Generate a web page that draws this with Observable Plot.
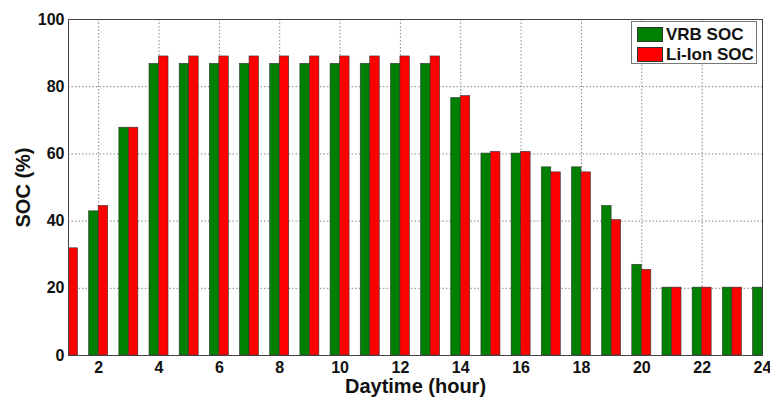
<!DOCTYPE html>
<html>
<head>
<meta charset="utf-8">
<script src="https://cdn.jsdelivr.net/npm/d3@7"></script>
<script src="https://cdn.jsdelivr.net/npm/@observablehq/plot@0.6"></script>
<style>
  html, body { margin: 0; padding: 0; background: #fff; }
  #wrap { position: relative; width: 770px; height: 397px; }
  #wrap svg g[aria-label="x-axis label"] text,
  #wrap svg g[aria-label="y-axis label"] text { font-size: 20px; }
  #legend {
    position: absolute; left: 631px; top: 21px; width: 126px; height: 43px;
    border: 1px solid #777; background: #fff; box-sizing: border-box;
    font-family: "Liberation Sans", Arial, sans-serif; font-weight: bold; font-size: 17px; color: #111;
  }
  .item { position: absolute; left: 5px; height: 15px; display: flex; align-items: center; white-space: nowrap; }
  .sw { width: 26px; height: 15px; margin-right: 3px; box-sizing: border-box; border: 0.6px solid #333; }
</style>
</head>
<body>
<div id="wrap"></div>
<script>
const hours = [1,2,3,4,5,6,7,8,9,10,11,12,13,14,15,16,17,18,19,20,21,22,23,24];
const vrbSOC   = [null,42.9,67.8,86.8,86.8,86.8,86.8,86.8,86.8,86.8,86.8,86.8,86.8,76.6,60.1,60.1,56.0,56.0,44.5,27.0,20.2,20.2,20.2,20.2];
const liionSOC = [31.9,44.5,67.8,89.0,89.0,89.0,89.0,89.0,89.0,89.0,89.0,89.0,89.0,77.2,60.6,60.6,54.5,54.5,40.3,25.5,20.2,20.2,20.2,null];
const seriesNames = ["VRB SOC", "Li-Ion SOC"];
const seriesColors = ["#008000", "#ff0000"];
const xTicks = [2,4,6,8,10,12,14,16,18,20,22,24];
const yTicks = [0,20,40,60,80,100];
const xGrid = [2,4,6,8,10,12,14,16,18,20,22];
const yGrid = [20,40,60,80];

const barW = 0.315;
const rows = [];
hours.forEach((h, i) => {
  rows.push({hour: h, series: seriesNames[0], idx: 0, value: vrbSOC[i]});
  rows.push({hour: h, series: seriesNames[1], idx: 1, value: liionSOC[i]});
});
const data = rows.filter(d => d.value != null);

const chart = Plot.plot({
  width: 770,
  height: 397,
  marginLeft: 68,
  marginRight: 8,
  marginTop: 19,
  marginBottom: 42,
  style: {fontFamily: "'Liberation Sans', Arial, sans-serif", fontSize: "16px", fontWeight: "bold", color: "#111", background: "#fff"},
  x: {domain: [1, 24], ticks: xTicks, tickSize: 0, tickPadding: 6, label: "Daytime (hour)", labelAnchor: "center", labelOffset: 37, labelArrow: "none"},
  y: {domain: [0, 100], ticks: yTicks, tickSize: 0, tickPadding: 4, label: "SOC (%)", labelAnchor: "center", labelOffset: 53, labelArrow: "none"},
  color: {domain: seriesNames, range: seriesColors},
  marks: [
    Plot.gridX(xGrid, {stroke: "#888", strokeOpacity: 1, strokeDasharray: "1.5,2"}),
    Plot.gridY(yGrid, {stroke: "#888", strokeOpacity: 1, strokeDasharray: "1.5,2"}),
    Plot.rect(data, {
      x1: d => d.idx === 0 ? d.hour - barW : d.hour,
      x2: d => d.idx === 0 ? d.hour : d.hour + barW,
      y1: () => 0,
      y2: "value",
      fill: "series",
      stroke: "#333",
      strokeWidth: 0.6,
      clip: true
    }),
    Plot.frame({stroke: "#444", strokeWidth: 1})
  ]
});

const wrap = document.getElementById("wrap");
wrap.appendChild(chart);

const legend = document.createElement("div");
legend.id = "legend";
seriesNames.forEach((name, i) => {
  const item = document.createElement("div");
  item.className = "item";
  item.style.top = (5 + i * 20) + "px";
  const sw = document.createElement("div");
  sw.className = "sw";
  sw.style.background = seriesColors[i];
  const t = document.createElement("span");
  t.textContent = name;
  item.appendChild(sw);
  item.appendChild(t);
  legend.appendChild(item);
});
wrap.appendChild(legend);
</script>
</body>
</html>
